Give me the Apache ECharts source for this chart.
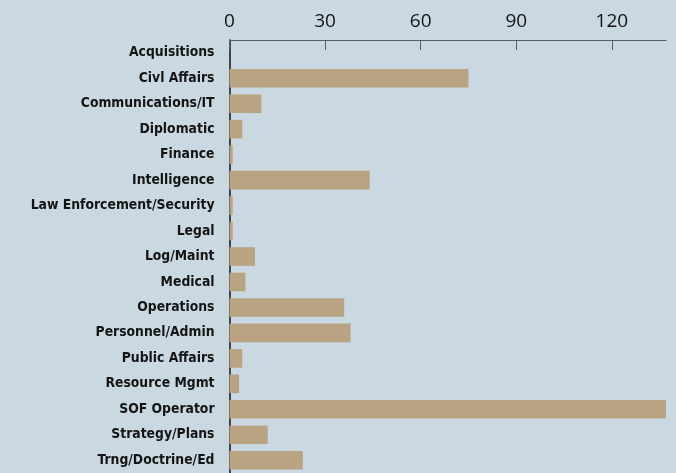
<!DOCTYPE html>
<html>
<head>
<meta charset="utf-8">
<script src="https://cdn.jsdelivr.net/npm/echarts@6/dist/echarts.min.js"></script>
<style>
html,body{margin:0;padding:0;background:#c9d8e1;}
#chart{width:676px;height:473px;}
</style>
</head>
<body>
<div id="chart"></div>
<script>
const categories = ["Acquisitions","Civl Affairs","Communications/IT","Diplomatic","Finance","Intelligence","Law Enforcement/Security","Legal","Log/Maint","Medical","Operations","Personnel/Admin","Public Affairs","Resource Mgmt","SOF Operator","Strategy/Plans","Trng/Doctrine/Ed"];
const values = [0,75,10,4,1,44,1,1,8,5,36,38,4,3,137,12,23];
const tickValues = [0,30,60,90,120];

const chart = echarts.init(document.getElementById('chart'), null, {renderer:'canvas'});
chart.setOption({
  backgroundColor:'#c9d8e1',
  animation:false,
  grid:{left:229.5, right:10, top:40, bottom:-4, containLabel:false},
  xAxis:{
    type:'value', position:'top', min:0, max:137, interval:30,
    axisLine:{show:true, lineStyle:{color:'#5a5f63', width:1}},
    axisTick:{show:true, inside:true, length:10, customValues:tickValues, lineStyle:{color:'#5a5f63', width:1}},
    axisLabel:{customValues:tickValues, margin:9, fontFamily:'"Open Sans", sans-serif', fontSize:19, color:'#141414'},
    splitLine:{show:false}
  },
  yAxis:{
    type:'category', inverse:true, data:categories,
    axisLine:{show:true, lineStyle:{color:'#141414', width:1.5}},
    axisTick:{show:false},
    axisLabel:{margin:15, padding:[0,0,4,0], fontFamily:'"DejaVu Sans Condensed", sans-serif', fontWeight:'bold', fontSize:13.8, color:'#141414'}
  },
  series:[{
    type:'bar', data:values, barWidth:18.6,
    itemStyle:{color:'#b9a382'},
    silent:true
  }]
});
</script>
</body>
</html>
